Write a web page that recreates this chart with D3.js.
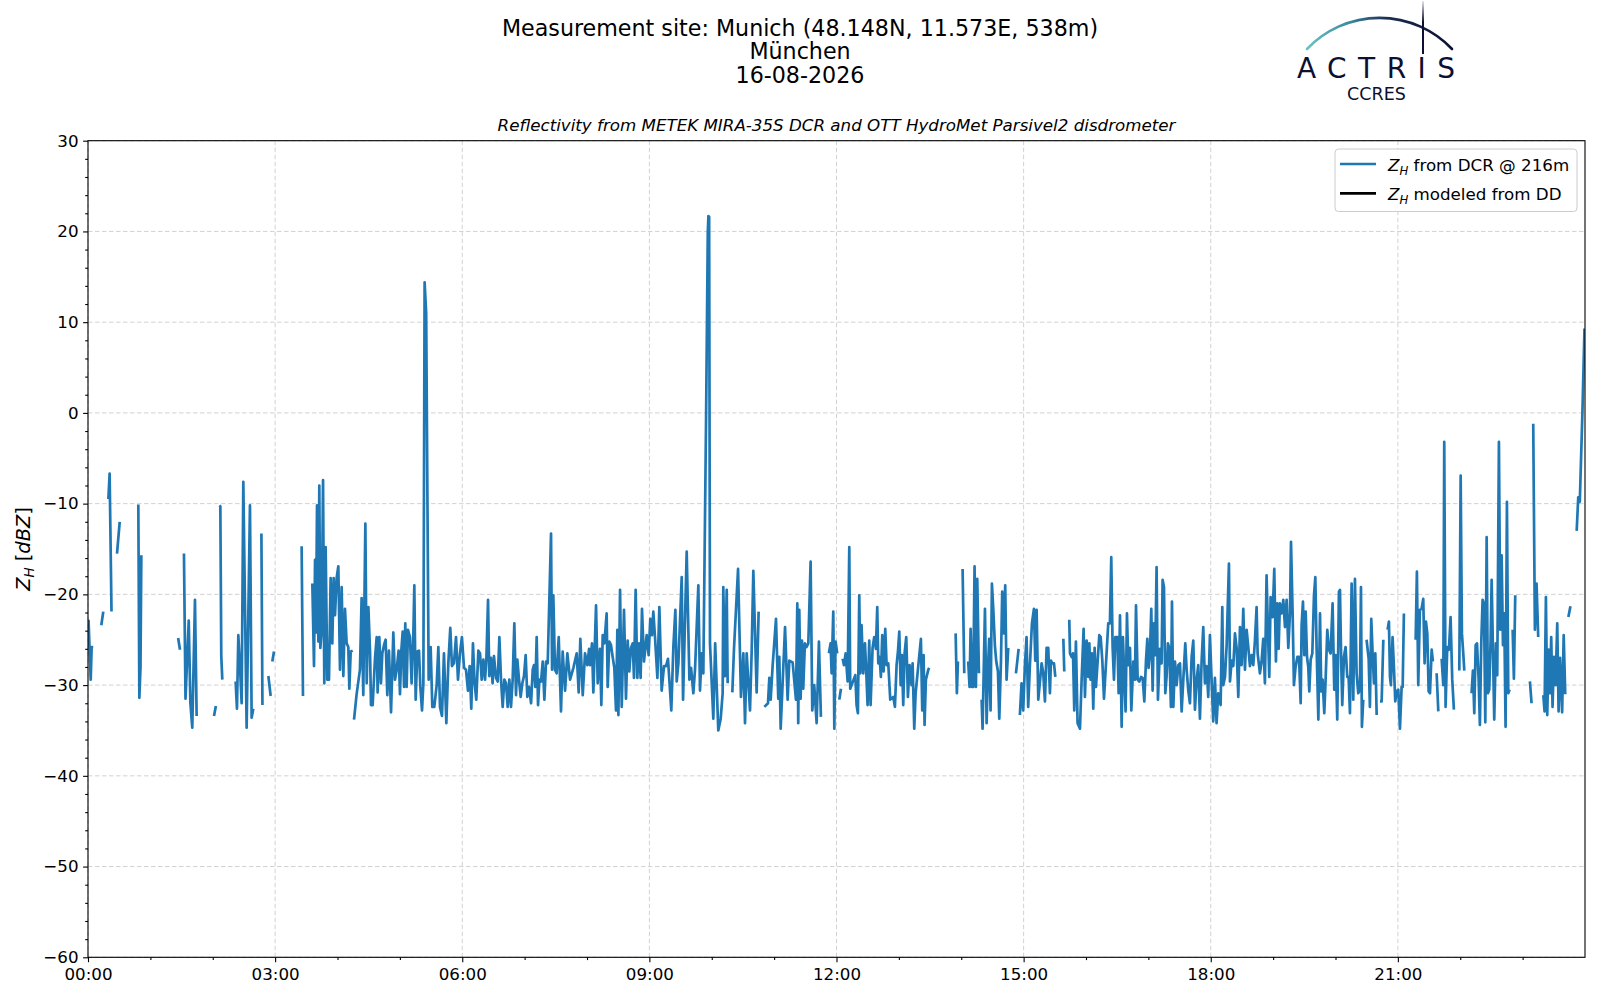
<!DOCTYPE html>
<html><head><meta charset="utf-8">
<script src="https://cdn.jsdelivr.net/npm/d3@7"></script>
<style>
body{margin:0;background:#fff}
svg{display:block}
text{font-family:"DejaVu Sans",sans-serif}
</style>
</head><body>
<svg id="chart" width="1600" height="1000"></svg>
<script>
// ---------- texts ----------
const titleLines = ["Measurement site: Munich (48.148N, 11.573E, 538m)", "München", "16-08-2026"];
const subtitle = "Reflectivity from METEK MIRA-35S DCR and OTT HydroMet Parsivel2 disdrometer";
const legendLabels = [" from DCR @ 216m", " modeled from DD"];
const seriesColors = ["#1f77b4", "#000000"];

// ---------- axes ----------
const xDomain = [0, 1440];                  // minutes of the day
const xTickMinutes = [0, 180, 360, 540, 720, 900, 1080, 1260];
const xTickLabels = ["00:00", "03:00", "06:00", "09:00", "12:00", "15:00", "18:00", "21:00"];
const xMinorTicks = [60, 120, 240, 300, 420, 480, 600, 660, 780, 840, 960, 1020, 1140, 1200, 1320, 1380];
const yDomain = [-60, 30];
const yTicks = [30, 20, 10, 0, -10, -20, -30, -40, -50, -60];
const yMinorTicks = [28,26,24,22,18,16,14,12,8,6,4,2,-2,-4,-6,-8,-12,-14,-16,-18,-22,-24,-26,-28,-32,-34,-36,-38,-42,-44,-46,-48,-52,-54,-56,-58];

// ---------- data: [minute of day, Z_H dBZ]; null = no data ----------
const dcrSamples = [
[0.5,-22.8],[2.6,-29.4],[3.5,-25.8],[5,-25.8],[6,null],
[12.8,-23.4],[14.7,-21.9],[16,null],
[19.6,-9.5],[20.8,-6.7],[22.6,-21.9],[24,null],
[27.9,-15.5],[30.5,-12],[32,null],
[48.4,-10.1],[49.4,-31.4],[50.5,-28],[51.3,-15.7],[53,null],
[86.7,-24.8],[88.5,-26.1],[90,null],
[92.3,-15.5],[93.8,-31.5],[96.9,-22.9],[98.5,-32],[100.3,-34.7],[102.9,-20.6],[104.5,-33.4],[106,null],
[121.2,-33.4],[123,-32.3],[124.5,null],
[126.3,-10.2],[127.3,-10.3],[128.2,-26.8],[129.2,-29.4],[131,null],
[142,-29.6],[143.3,-32.6],[144.6,-24.5],[146.2,-28],[147.8,-32],[149.4,-7.6],[152.6,-34.7],[155.8,-10.2],[157.4,-33.6],[159,-32.6],[161,null],
[166.8,-13.3],[167.8,-32.2],[170,null],
[173.5,-29],[175.7,-31.2],[176.5,null],
[177.3,-27.4],[178.9,-26.3],[181,null],
[205.5,-14.7],[206.8,-31.2],[210,null],
[215.8,-18.8],[217.4,-27.9],[218.4,-16.2],[219.3,-24.2],[220.3,-10.2],[221.6,-25.2],[222.5,-8.0],[223.5,-25.9],[224.8,-23.9],[226.1,-7.4],[227.3,-29.8],[228.6,-14.8],[230.2,-29.4],[231.8,-29.4],[233.4,-18.2],[235.0,-25.4],[236.3,-18.2],[237.6,-22.3],[239.2,-18.2],[240.8,-16.9],[242.4,-28.3],[244.0,-19.2],[245.6,-29.0],[247.2,-21.6],[248.8,-25.4],[250.4,-25.8],[251.4,-30.4],[252.7,-26.3],[254.6,-26.2],[255.2,null],
[255.9,-33.8],[258.4,-31.0],[261.6,-28.3],[263.2,-20.4],[264.8,-31.1],[266.8,-12.2],[268.1,-29.8],[269.7,-21.4],[271.3,-26.3],[272.2,-32.2],[273.8,-32.2],[276.1,-27.0],[277.7,-24.7],[278.6,-30.8],[280.2,-24.7],[281.8,-29.8],[283.1,-26.5],[284.7,-25.6],[286.3,-25.0],[287.9,-31.1],[289.5,-26.2],[291.5,-33.0],[293.7,-24.2],[295.3,-29.4],[296.9,-28.3],[298.8,-26.2],[300.1,-31.0],[301.4,-26.2],[302.7,-24.1],[304.0,-30.2],[305.2,-23.2],[306.5,-30.2],[307.8,-23.9],[309.7,-24.7],[311.3,-29.8],[312.9,-24.7],[313.9,-19.0],[315.2,-31.6],[316.8,-26.3],[318.4,-26.2],[319.7,-30.2],[321.3,-32.8],[322.6,-29.8],[323.8,14.4],[325.3,11.0],[327.7,-29.4],[329.6,-25.8],[331.2,-32.4],[333.1,-32.4],[335.4,-30.0],[337.0,-25.8],[338.6,-32.4],[340.5,-33.4],[342.4,-26.5],[344.7,-34.2],[346.6,-27.6],[348.5,-23.7],[350.1,-27.9],[352.0,-27.6],[354.0,-24.7],[355.9,-29.4],[357.8,-26.5],[359.7,-24.7],[361.7,-28.1],[363.6,-28.3],[365.5,-30.6],[367.1,-27.9],[368.7,-32.6],[370.3,-25.4],[371.9,-29.8],[373.5,-31.6],[375.5,-26.2],[377.1,-26.5],[378.7,-29.4],[380.3,-27.2],[381.9,-29.4],[383.2,-27.2],[384.8,-20.6],[386.0,-29.0],[387.6,-27.0],[389.2,-29.8],[390.5,-26.8],[392.5,-29.2],[394.1,-29.6],[395.7,-24.7],[397.3,-29.4],[398.9,-32.4],[400.5,-29.4],[402.1,-29.8],[403.7,-32.4],[405.3,-29.4],[406.9,-32.4],[408.5,-29.4],[410.1,-23.2],[411.7,-31.1],[413.0,-27.2],[414.6,-29.4],[416.2,-31.3],[417.8,-29.8],[419.4,-29.0],[421.0,-26.7],[422.6,-31.3],[424.2,-30.2],
[426.2,-32.0],[427.8,-28.3],[429.0,-27.8],[430.3,-30.2],[431.6,-24.7],[432.9,-32.2],[434.2,-29.4],[435.8,-29.6],[437.4,-27.4],[439.0,-31.6],[440.6,-27.4],[442.2,-27.6],[445.4,-13.3],[446.4,-28.3],[447.6,-20.1],[449.2,-28.3],[450.8,-28.7],[452.8,-24.7],[455.0,-32.9],[456.6,-26.3],[458.9,-30.6],[461.1,-26.5],[463.7,-29.4],[466.9,-28.1],[470.1,-26.5],[472.0,-30.8],[473.6,-24.9],[475.9,-31.1],[478.1,-26.5],[480.3,-27.8],[482.0,-26.0],[482.9,-27.8],[484.8,-25.4],[486.1,-30.8],[488.7,-21.2],[490.3,-29.8],[492.5,-26.0],[493.8,-32.2],[495.1,-24.5],[496.7,-25.4],[498.9,-22.1],[499.9,-30.2],[501.5,-25.2],[503.1,-25.6],[504.7,-26.9],[506.3,-28.1],[507.9,-32.8],[509.2,-23.9],[510.2,-33.3],[511.8,-19.5],[513.4,-32.4],[515.6,-21.7],[517.5,-31.5],[519.1,-25.1],[520.7,-28.5],[522.3,-25.9],[524.0,-25.4],[525.2,-29.2],[526.8,-19.5],[528.4,-29.2],[530.0,-25.4],[531.6,-29.2],[532.9,-21.6],[534.8,-27.4],[537.4,-24.5],[539.3,-26.7],[540.9,-22.7],[542.5,-24.5],[543.8,-21.9],[545.4,-24.7],[547.7,-29.2],[549.6,-21.4],[551.8,-30.6],[554.1,-27.9],[556.0,-27.9],[557.9,-27.1],[561.1,-32.8],[563.1,-25.7],[565.0,-21.7],[566.3,-29.6],[567.9,-27.6],[571.1,-18.1],[572.4,-31.6],[575.9,-15.3],[578.5,-29.4],[580.1,-28.1],[582.3,-30.9],[583.9,-28.3],[587.1,-19.0],[588.7,-30.6],[590.3,-26.5],[591.9,-28.7],[594.5,-1.0],[596.2,20.0],[596.8,21.7],[597.5,21.6],[598.3,-25.4],[601.5,-33.7],[603.3,-25.4],[606.3,-35.0],[608.6,-33.7],[610.5,-30.9],[611.1,-19.2],[612.8,-29.0],[614.4,-19.5],[615.3,-29.8],[617,null],
[619.8,-30.8],[621.4,-26.0],[625.3,-17.2],[628.1,-31.3],[630.4,-26.5],[632.0,-34.2],[633.6,-26.5],[636.8,-32.8],[638.4,-26.3],[640.0,-17.4],[643.2,-30.8],[645.1,-21.9],[647,null],
[650.6,-32.4],[654.1,-32.0],[655.4,-29.2],[656.7,-31.6],[658.6,-27.8],[661.8,-22.7],[664.0,-31.5],[665.0,-26.9],[666.3,-34.8],[670.5,-23.6],[673.0,-31.6],[674.6,-27.3],[677.8,-27.5],[681.0,-31.6],[682.3,-21.0],[683.2,-34.2],[684.2,-21.7],[685.5,-31.5],[686.8,-25.1],[688.0,-30.4],[689.6,-25.4],[691.2,-25.8],[692.9,-25.4],[695.1,-16.4],[696.7,-32.8],[698.6,-30.0],[700.9,-34.2],[703.1,-25.2],[705.0,-33.5],[707,null],
[712.7,-26.5],[714.3,-25.4],[715.3,-28.7],[716.9,-21.9],[717.9,-34.8],[719.1,-25.2],[720.7,-26.5],[721.7,null],
[722.7,-31.6],[724.3,-30.4],[725.1,null],
[725.9,-27.1],[727.2,-27.8],[728.8,-26.5],[730.7,-29.6],[732.3,-14.8],[733.2,-30.4],[738.1,-28.9],[739.3,-32.2],[740.6,-33.1],[741.9,-20.1],[742.9,-28.7],[744.1,-23.4],[745.7,-28.7],[747.4,-25.4],[748.6,-28.5],[749.9,-32.2],[751.5,-25.1],[752.8,-32.2],[754.7,-25.9],[756.3,-24.7],[757.9,-26.0],[759.2,-21.4],[760.2,-27.6],[761.5,-26.9],[762.7,-29.1],[764.0,-24.5],[765.3,-28.5],[766.9,-23.8],[768.2,-27.8],[769.8,-27.6],[771.7,-31.6],[774.6,-31.3],[776.2,-32.4],[777.8,-27.8],[779.1,-26.3],[780.4,-24.1],[781.7,-30.0],[782.9,-26.7],[784.2,-32.2],[785.5,-26.5],[787.1,-24.7],[788.7,-31.3],[790.3,-27.8],[792.2,-30.0],[793.2,-27.6],[794.8,-34.8],[796.1,-30.9],[801.2,-24.9],[802.5,-32.8],[803.8,-26.7],[804.7,-34.4],[806.0,-29.4],[808.3,-28.3],[809.2,-28.1],[811,null],
[834.6,-24.3],[835.8,-30.9],[836.8,-27.4],[838,null],
[841.3,-17.2],[842.9,-28.7],[844,null],
[846.7,-27.4],[848.0,-30.2],[849.0,-23.8],[850.3,-30.2],[851.5,-30.2],[852.8,-16.9],[854.1,-30.2],[855.4,-18.3],[857.0,-28.7],[858.3,null],
[859.6,-31.6],[860.5,-34.8],[862.8,-21.6],[864.4,-34.2],[866.0,-27.3],[866.9,-24.9],[868.2,-32.8],[869.5,-18.8],[870.8,-21.6],[872.4,-25.7],[873.7,-27.4],[875.3,-28.5],[876.6,-33.7],[878.2,-27.4],[879.4,-19.7],[881.0,-24.3],[882.3,-19.0],[883.6,-29.4],[885.2,-25.9],[887,null],
[892.6,-28.7],[895.2,-26.0],[895.8,null],
[896.4,-33.3],[898.0,-29.8],[899.6,-32.8],[901.2,-27.9],[902.8,-24.7],[904.4,-32.4],[906.0,-27.9],[908.0,-23.2],[909.9,-21.6],[911.2,-27.3],[912.5,-21.7],[914.1,-31.6],[917.3,-27.6],[918.9,-28.7],[920.5,-31.8],[922.1,-25.9],[923.7,-25.9],[925.3,-30.9],[926.3,-27.3],[927.6,-27.6],[929.2,-27.6],[930.5,-29.1],[932,null],
[938.2,-24.9],[939.1,-28.5],[941,null],
[943.9,-22.8],[944.6,-26.5],[946.2,-26.9],[947.5,-26.5],[948.7,-32.8],[950.3,-25.2],[951.9,-34.2],[954.2,-34.8],[955.8,-29.4],[957.7,-23.8],[959.0,-31.3],[960.6,-25.1],[962.2,-29.1],[963.2,-25.4],[964.4,-29.4],[965.7,-26.5],[967.0,-32.6],[968.3,-25.9],[969.6,-30.2],[971.2,-27.4],[972.8,-24.5],[974.1,-24.7],[975.7,-27.3],[977.3,-31.5],[979.8,-26.5],[981.4,-23.2],[983.0,-23.2],[984.3,-15.9],[985.6,-25.8],[986.9,-29.4],[988.2,-24.7],[990.1,-24.7],[991.4,-30.9],[992.7,-22.3],[994.3,-34.6],[995.5,-24.7],[996.8,-29.1],[998.1,-32.9],[999.4,-22.1],[1000.7,-27.8],[1002.3,-25.9],[1003.6,-32.8],[1005.5,-27.4],[1007.1,-29.4],[1008.1,-21.2],[1009.7,-29.4],[1011.3,-29.6],[1012.9,-29.1],[1014.5,-29.2],[1016.1,-31.8],[1017.7,-27.3],[1019.0,-24.9],[1020.2,-28.1],[1021.5,-26.5],[1022.8,-21.6],[1024.1,-30.6],[1025.4,-23.2],[1026.6,-26.7],[1027.9,-17.0],[1029.2,-31.6],[1031.1,-26.0],[1032.7,-27.6],[1033.7,-18.4],[1035.0,-19.2],[1036.3,-30.9],[1037.5,-29.1],[1038.8,-25.4],[1040.1,-25.9],[1041.7,-32.4],[1042.7,-20.8],[1044.0,-32.4],[1045.6,-27.4],[1047.2,-30.0],[1048.8,-27.8],[1050.4,-27.6],[1052.0,-32.9],[1053.6,-29.4],[1055.5,-25.4],[1056.8,-28.3],[1058.4,-30.6],[1060.0,-32.0],[1061.6,-26.9],[1063.2,-25.1],[1064.8,-32.7],[1066.4,-29.4],[1068.0,-27.8],[1069.6,-33.7],[1071.2,-27.4],[1072.8,-23.6],[1074.4,-29.8],[1076.0,-27.9],[1077.6,-31.3],[1079.2,-24.5],[1080.8,-29.4],[1082.4,-34.0],[1084.0,-29.2],[1085.6,-34.2],[1087.2,-30.9],[1089.5,-32.2],[1091.1,-21.4],[1092.0,-30.0],[1093.7,-29.1],[1095.3,-25.6],[1097.5,-16.6],[1098.5,-29.6],[1100.1,-27.3],[1101.7,-27.9],[1103.3,-24.3],[1104.9,-25.9],[1106.5,-31.3],[1108.1,-23.6],[1109.7,-27.8],[1111.3,-21.6],[1112.9,-28.3],[1114.5,-23.9],[1116.1,-25.8],[1117.7,-27.9],[1119.3,-26.7],[1120.9,-27.8],[1122.5,-25.1],[1124.1,-21.4],[1125.1,-26.5],[1127.3,-28.7],[1128.9,-27.4],[1130.5,-24.9],[1132.1,-29.8],[1133.7,-17.9],[1135.0,-23.9],[1136.3,-29.1],[1137.6,-20.3],[1139.5,-22.5],[1141.1,-17.2],[1142.7,-27.4],[1144.0,-21.0],[1145.3,-26.0],[1146.5,-21.0],[1148.2,-22.1],[1149.8,-20.6],[1151.4,-23.6],[1153.0,-20.6],[1154.6,-25.9],
[1156.2,-22.1],[1157.2,-14.2],[1158.8,-22.3],[1160.0,-30.0],[1161.6,-28.0],[1163.3,-26.9],[1164.9,-26.9],[1166.5,-32.0],[1167.4,-23.4],[1168.7,-20.8],[1170.0,-26.7],[1171.3,-21.9],[1172.6,-26.9],[1173.8,-28.0],[1174.8,-30.7],[1176.1,-27.2],[1177.7,-26.5],[1179.3,-20.1],[1180.6,-18.1],[1181.8,-25.8],[1183.5,-33.8],[1185.1,-22.1],[1186.3,-30.7],[1187.6,-29.4],[1189.2,-33.1],[1190.5,-29.4],[1192.1,-23.9],[1193.7,-26.1],[1195.3,-26.5],[1197.2,-21.0],[1198.8,-30.5],[1200.1,-26.7],[1201.7,-33.8],[1203.3,-19.7],[1204.3,-19.5],[1205.6,-28.0],[1206.5,-32.2],[1208.1,-26.9],[1209.7,-25.8],[1211.3,-29.1],[1212.6,-29.1],[1213.9,-33.1],[1215.5,-18.8],[1217.1,-31.6],[1218.7,-18.3],[1220.3,-28.7],[1221.9,-30.9],[1223.5,-30.5],[1224.5,-19.2],[1225.4,-34.6],[1226.7,-31.6],[1228,null],
[1229.9,-25.0],[1231.9,-27.1],[1233.1,-32.4],[1234.4,-22.7],[1235.7,-26.5],[1237.0,-29.8],[1238.3,-26.5],[1239.6,-33.3],[1241,null],
[1242.8,-31.8],[1244.4,-31.8],[1246.0,-25.0],[1247,null],
[1250.1,-23.9],[1251.4,-23.0],[1252.4,-29.1],[1253.3,-30.0],[1254.9,-24.7],[1256.2,-28.0],[1257.5,-31.8],[1258.8,-30.7],[1260.4,-30.5],[1262.0,-34.8],[1263.6,-30.2],[1264.6,-30.2],[1265.8,-22.1],[1267,null],
[1277.1,-25.0],[1278.3,-17.5],[1279.6,-30.0],[1281.2,-21.7],[1282.8,-21.6],[1284.4,-20.5],[1285.7,-27.6],[1287.0,-23.0],[1288.3,-24.3],[1289.6,-30.7],[1290.9,-30.9],[1292.5,-26.1],[1293.7,-27.4],[1295,null],
[1297.3,-28.7],[1298.9,-32.9],[1300,null],
[1302.1,-27.1],[1303.7,-30.0],[1304.6,-3.2],[1305.9,-32.4],[1307.5,-25.8],[1309.1,-26.1],[1310.7,-22.5],[1312.3,-29.4],[1313.9,-32.7],[1315,null],
[1319.1,-28.4],[1320.4,-6.9],[1321.6,-24.3],[1322.9,-26.5],[1323.9,-28.4],[1325,null],
[1330.9,-30.9],[1332.2,-28.4],[1333.5,-33.1],[1334.8,-25.6],[1336.1,-25.4],[1337.7,-29.4],[1338.9,-34.4],[1340.2,-25.4],[1341.5,-20.6],[1342.8,-21.0],[1344.1,-34.1],[1345.4,-13.7],[1346.6,-30.9],[1347.9,-30.5],[1349.2,-25.0],[1350.2,-18.4],[1351.4,-25.8],[1352.7,-33.8],[1354.3,-25.4],[1355.6,-28.9],[1357.2,-3.2],[1358.5,-23.9],[1359.8,-15.7],[1361.1,-25.6],[1362.3,-22.1],[1363.6,-34.6],[1364.9,-9.8],[1366.2,-30.9],[1367.5,-30.5],[1369,null],
[1370.4,-23.9],[1371.6,-29.3],[1372.9,-20.1],[1374,null],
[1387.0,-29.6],[1388.6,-32.0],[1389.4,null],
[1390.2,-1.2],[1391.8,-23.9],[1393.4,-18.8],[1395.0,-24.7],[1396,null],
[1399.9,-31.1],[1401.1,-32.9],[1402.4,-20.3],[1403.7,-33.3],[1405.0,-26.1],[1406.3,-30.9],[1407.5,-24.7],[1408.8,-32.4],[1410.1,-26.9],[1411.7,-30.0],[1413.3,-23.2],[1414.6,-32.9],[1416.0,-27.0],[1418.0,-33.0],[1419.5,-24.5],[1421.0,-31.0],[1422.5,null],
[1424.0,-22.5],[1426.0,-21.3],[1428,null],
[1432.0,-13.0],[1433.5,-9.3],[1435.0,-9.8],[1437.5,0.0],[1439.5,9.3]
];
const ddSamples = []; // modeled Z_H from disdrometer: no values drawn in this plot

// ---------- layout ----------
const plot = {left: 88, right: 1585, top: 140.7, bottom: 957.3};
const svg = d3.select("#chart");

const x = d3.scaleLinear().domain(xDomain).range([plot.left, plot.right]);
const y = d3.scaleLinear().domain(yDomain).range([plot.bottom, plot.top]);
const fmtY = v => String(v).replace("-", "\u2212");

// grid
const grid = svg.append("g").attr("stroke", "#d2d2d2").attr("stroke-width", 1).attr("stroke-dasharray", "4.5,2.5");
grid.selectAll("line.gx").data(xTickMinutes).join("line")
  .attr("x1", d => x(d)).attr("x2", d => x(d)).attr("y1", plot.top).attr("y2", plot.bottom);
grid.selectAll("line.gy").data(yTicks).join("line")
  .attr("y1", d => y(d)).attr("y2", d => y(d)).attr("x1", plot.left).attr("x2", plot.right);

// clip
svg.append("clipPath").attr("id", "clip").append("rect")
  .attr("x", plot.left).attr("y", plot.top).attr("width", plot.right - plot.left).attr("height", plot.bottom - plot.top);

// data lines
const line = d3.line().defined(d => d[1] !== null).x(d => x(d[0])).y(d => y(d[1]));
const series = [dcrSamples, ddSamples];
svg.append("g").attr("clip-path", "url(#clip)").selectAll("path").data(series).join("path")
  .attr("d", d => line(d)).attr("fill", "none")
  .attr("stroke", (d, i) => seriesColors[i]).attr("stroke-width", 2.7)
  .attr("stroke-linejoin", "round").attr("stroke-linecap", "butt");

// axes
function styleAxis(g) {
  g.attr("font-family", "DejaVu Sans, sans-serif").attr("font-size", 16.7);
  g.select(".domain").remove();
  g.selectAll(".tick line").attr("stroke", "#000").attr("stroke-width", 1.1);
  g.selectAll(".tick text").attr("fill", "#000");
}
svg.append("g").attr("transform", `translate(0,${plot.bottom})`)
  .call(d3.axisBottom(x).tickValues(xTickMinutes).tickSize(4.9).tickPadding(5.5)
    .tickFormat((d, i) => xTickLabels[i])).call(styleAxis);
svg.append("g").attr("transform", `translate(0,${plot.bottom})`)
  .call(d3.axisBottom(x).tickValues(xMinorTicks).tickSize(2.8).tickFormat("")).call(styleAxis);
svg.append("g").attr("transform", `translate(${plot.left},0)`)
  .call(d3.axisLeft(y).tickValues(yTicks).tickSize(4.9).tickPadding(4.6).tickFormat(fmtY)).call(styleAxis);
svg.append("g").attr("transform", `translate(${plot.left},0)`)
  .call(d3.axisLeft(y).tickValues(yMinorTicks).tickSize(2.8).tickFormat("")).call(styleAxis);

// frame
svg.append("rect").attr("x", plot.left).attr("y", plot.top)
  .attr("width", plot.right - plot.left).attr("height", plot.bottom - plot.top)
  .attr("fill", "none").attr("stroke", "#000").attr("stroke-width", 1.1);

// y label
const yl = svg.append("text").attr("transform", `translate(30,${(plot.top + plot.bottom) / 2}) rotate(-90)`)
  .attr("text-anchor", "middle").attr("font-size", 19.4);
yl.append("tspan").attr("font-style", "italic").text("Z");
yl.append("tspan").attr("font-style", "italic").attr("font-size", 13.5).attr("dy", 4).text("H");
yl.append("tspan").attr("dy", -4).text(" [");
yl.append("tspan").attr("font-style", "italic").text("dBZ");
yl.append("tspan").text("]");

// titles
svg.append("g").selectAll("text").data(titleLines).join("text")
  .attr("x", 800).attr("y", (d, i) => 36 + i * 23.3).attr("text-anchor", "middle")
  .attr("font-size", 22.2).attr("fill", "#000").text(d => d);
svg.append("text").attr("x", (plot.left + plot.right) / 2).attr("y", 130.5).attr("text-anchor", "middle")
  .attr("font-size", 16.7).attr("font-style", "italic").text(subtitle);

// legend
const lg = svg.append("g");
lg.append("rect").attr("x", 1335).attr("y", 149).attr("width", 242).attr("height", 62.5).attr("rx", 3.5)
  .attr("fill", "#fff").attr("fill-opacity", 0.8).attr("stroke", "#cccccc").attr("stroke-width", 1);
legendLabels.forEach((lab, i) => {
  const cy = 164 + i * 29.3;
  lg.append("line").attr("x1", 1340).attr("x2", 1376).attr("y1", cy).attr("y2", cy)
    .attr("stroke", seriesColors[i]).attr("stroke-width", 2.7);
  const t = lg.append("text").attr("x", 1388).attr("y", cy + 7).attr("font-size", 16.7).attr("fill", "#000");
  t.append("tspan").attr("font-style", "italic").text("Z");
  t.append("tspan").attr("font-style", "italic").attr("font-size", 11.7).attr("dy", 3.5).text("H");
  t.append("tspan").attr("dy", -3.5).text(lab);
});

// ACTRIS CCRES logo
const defs = svg.append("defs");
const gA = defs.append("linearGradient").attr("id", "arcGrad").attr("gradientUnits", "userSpaceOnUse")
  .attr("x1", 1306).attr("y1", 0).attr("x2", 1452).attr("y2", 0);
gA.append("stop").attr("offset", "0%").attr("stop-color", "#6cc3bf");
gA.append("stop").attr("offset", "30%").attr("stop-color", "#3a8a9c");
gA.append("stop").attr("offset", "55%").attr("stop-color", "#1a2f55");
gA.append("stop").attr("offset", "100%").attr("stop-color", "#0d1030");
const gV = defs.append("linearGradient").attr("id", "vGrad").attr("gradientUnits", "userSpaceOnUse")
  .attr("x1", 0).attr("y1", 1).attr("x2", 0).attr("y2", 54);
gV.append("stop").attr("offset", "0%").attr("stop-color", "#0d1030").attr("stop-opacity", 0.1);
gV.append("stop").attr("offset", "40%").attr("stop-color", "#0d1030").attr("stop-opacity", 1);
gV.append("stop").attr("offset", "100%").attr("stop-color", "#0d1030").attr("stop-opacity", 1);
svg.append("path").attr("d", "M1307,49 A100,100 0 0 1 1452,49").attr("fill", "none")
  .attr("stroke", "url(#arcGrad)").attr("stroke-width", 2.6).attr("stroke-linecap", "round");
svg.append("line").attr("x1", 1423).attr("x2", 1423).attr("y1", 1).attr("y2", 54)
  .attr("stroke", "url(#vGrad)").attr("stroke-width", 2);
svg.append("text").attr("x", 1297).attr("y", 77.5).attr("font-family", "Lato, 'Open Sans', sans-serif")
  .attr("font-size", 28).attr("fill", "#0d1030").attr("textLength", 158).attr("lengthAdjust", "spacing")
  .text("ACTRIS");
svg.append("text").attr("x", 1376.5).attr("y", 99.5).attr("text-anchor", "middle")
  .attr("font-family", "Lato, 'Open Sans', sans-serif").attr("font-size", 17.5).attr("fill", "#0d1030")
  .text("CCRES");
</script>
</body></html>
